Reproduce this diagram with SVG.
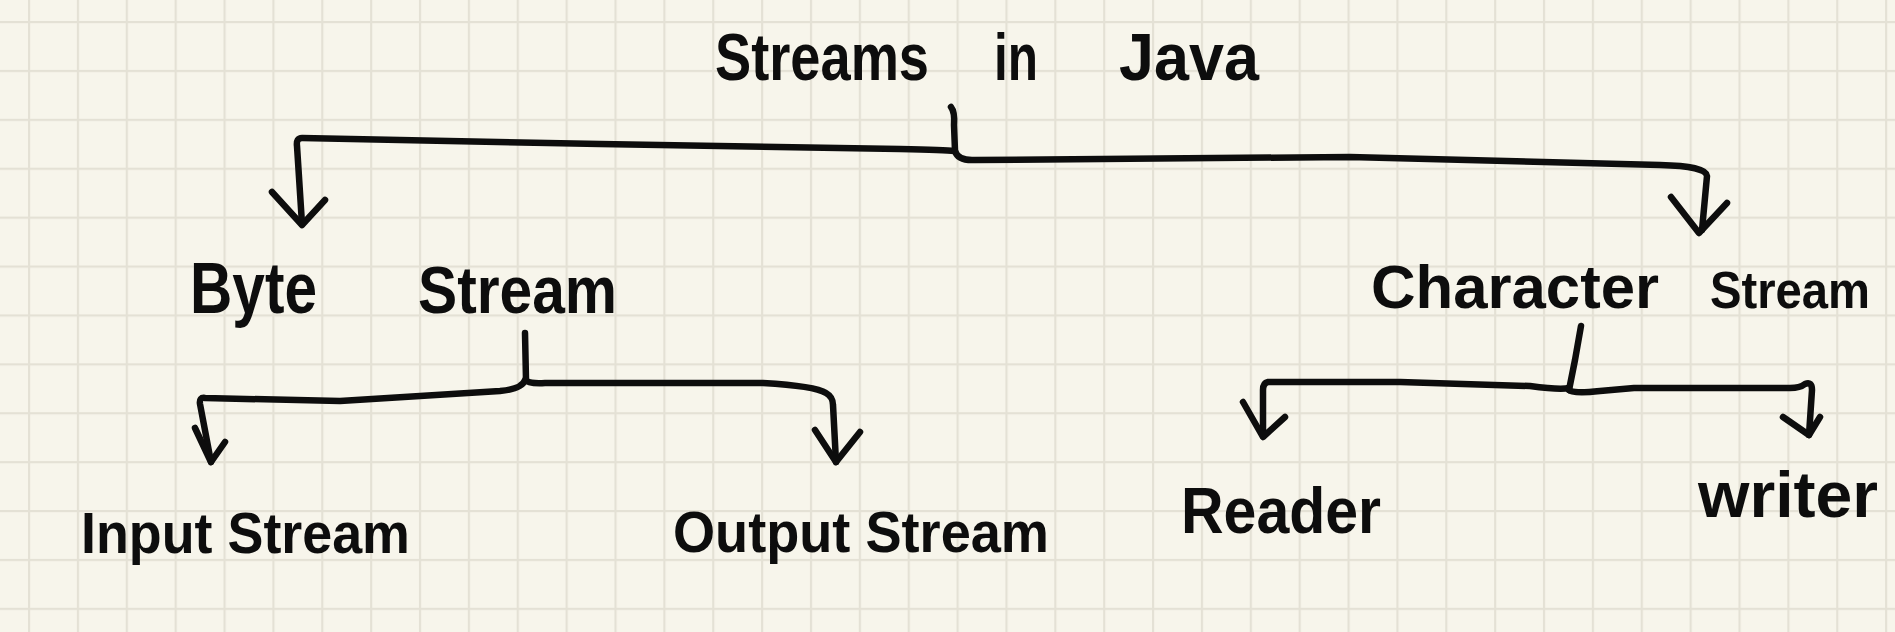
<svg xmlns="http://www.w3.org/2000/svg" width="1895" height="632" viewBox="0 0 1895 632">
  <defs>
    <pattern id="grid" patternUnits="userSpaceOnUse" x="28" y="21" width="48.87" height="48.9">
      <rect x="0" y="0" width="48.87" height="2.2" fill="#e4e1d5"/>
      <rect x="0" y="0" width="2.2" height="48.9" fill="#e4e1d5"/>
    </pattern>
    <style>
      .ink { fill: none; stroke: #0d0d0d; stroke-width: 6.5; stroke-linecap: round; stroke-linejoin: round; }
      .lbl { font-family: "Liberation Sans", Arial, sans-serif; font-weight: bold; fill: #0d0d0d; }
    </style>
  </defs>
  <rect width="1895" height="632" fill="#f7f5eb"/>
  <rect width="1895" height="632" fill="url(#grid)"/>

  <g id="connectors">
    <!-- root bracket -->
    <path class="ink" d="M 951 107 Q 955 112 954 125 L 955 151"/>
    <path class="ink" d="M 954 151 Q 946 150 900 149 L 600 144 L 302 138 Q 296 138 297 146 L 302 224"/>
    <path class="ink" d="M 272 192 L 302 225 L 325 200"/>
    <path class="ink" d="M 955 151 Q 958 161 975 160 L 1350 157 L 1660 165 Q 1706 166 1707 176 L 1702 230"/>
    <path class="ink" d="M 1671 197 L 1699 233 L 1727 203"/>
    <!-- byte stream bracket -->
    <path class="ink" d="M 525 333 L 526 380"/>
    <path class="ink" d="M 525 380 Q 522 389 500 391 L 340 401 L 205 398 Q 199 397 200 404 L 211 462"/>
    <path class="ink" d="M 195 428 L 211 462 L 225 442"/>
    <path class="ink" d="M 526 380 Q 528 384 545 383 L 763 383 Q 815 386 826 393 Q 833 397 833 405 L 836 462"/>
    <path class="ink" d="M 815 430 L 836 462 L 860 432"/>
    <!-- character stream bracket -->
    <path class="ink" d="M 1581 326 L 1575 360 L 1569 390"/>
    <path class="ink" d="M 1569 388 Q 1560 390 1530 386 L 1400 382 L 1268 382 Q 1263 383 1263 390 L 1263 436"/>
    <path class="ink" d="M 1243 402 L 1263 437 L 1285 417"/>
    <path class="ink" d="M 1569 390 Q 1572 394 1600 391 L 1634 388 L 1790 388 Q 1800 388 1805 384 Q 1812 381 1812 390 L 1809 435"/>
    <path class="ink" d="M 1783 417 L 1809 435 L 1820 417"/>
  </g>

  <g id="node-streams-in-java">
    <text class="lbl" y="80" font-size="66"><tspan x="715" textLength="214" lengthAdjust="spacingAndGlyphs">Streams</tspan> <tspan x="994" textLength="44" lengthAdjust="spacingAndGlyphs">in</tspan> <tspan x="1119" textLength="140" lengthAdjust="spacingAndGlyphs">Java</tspan></text>
  </g>

  <g id="node-byte-stream">
    <text class="lbl" y="313" font-size="72"><tspan x="190" textLength="127" lengthAdjust="spacingAndGlyphs">Byte</tspan> <tspan x="418" font-size="66" textLength="199" lengthAdjust="spacingAndGlyphs">Stream</tspan></text>
  </g>

  <g id="node-character-stream">
    <text class="lbl" y="308" font-size="62"><tspan x="1371" textLength="288" lengthAdjust="spacingAndGlyphs">Character</tspan> <tspan x="1710" font-size="52" textLength="160" lengthAdjust="spacingAndGlyphs">Stream</tspan></text>
  </g>

  <g id="node-input-stream">
    <text class="lbl" x="81" y="553" font-size="58" textLength="329" lengthAdjust="spacingAndGlyphs">Input Stream</text>
  </g>

  <g id="node-output-stream">
    <text class="lbl" x="673" y="552" font-size="58" textLength="376" lengthAdjust="spacingAndGlyphs">Output Stream</text>
  </g>

  <g id="node-reader">
    <text class="lbl" x="1181" y="533" font-size="64" textLength="200" lengthAdjust="spacingAndGlyphs">Reader</text>
  </g>

  <g id="node-writer">
    <text class="lbl" x="1698" y="517" font-size="64" textLength="180" lengthAdjust="spacingAndGlyphs">writer</text>
  </g>
</svg>
